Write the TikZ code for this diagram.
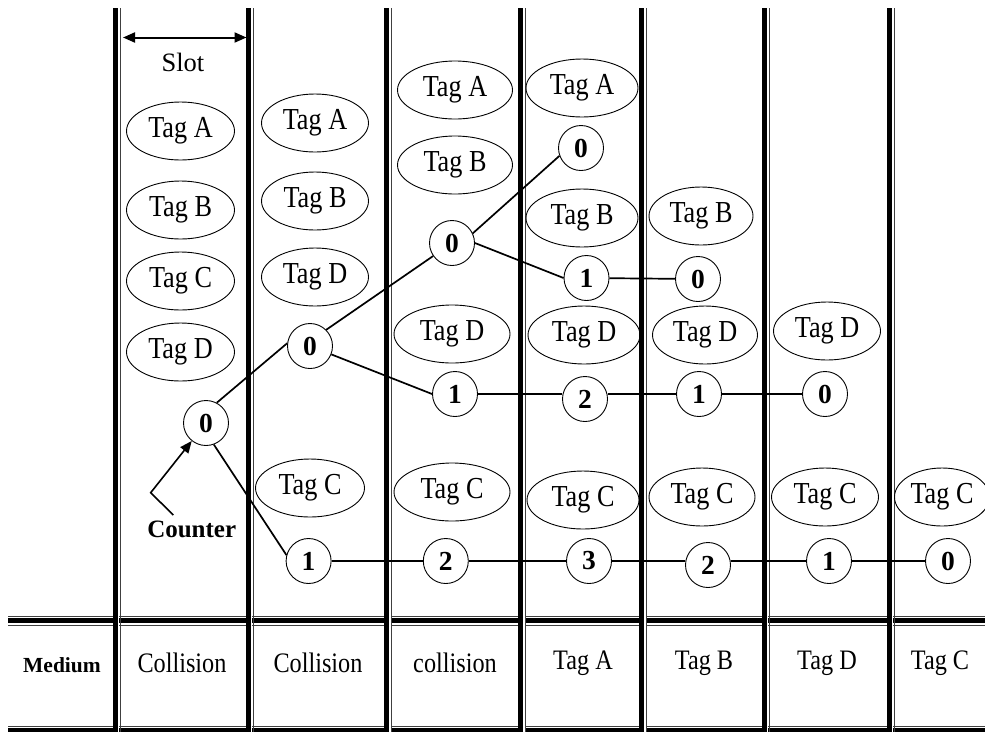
\documentclass[tikz,border=0pt]{standalone}
\usepackage{fontspec}
\setmainfont{Liberation Serif}
\newfontfamily\tagfont{Liberation Serif}[FakeStretch=0.86]
\usetikzlibrary{shapes.geometric,arrows.meta}
\begin{document}
\begin{tikzpicture}[x=1pt,y=-1pt,
  >={Triangle[length=12pt,width=10pt]},
  tag/.style={ellipse,draw,line width=0.9pt,inner sep=0pt,
    minimum width=108pt,minimum height=58pt,
    font=\tagfont\fontsize{30.5}{31}\selectfont},
  ctr/.style={circle,draw,line width=0.9pt,inner sep=0pt,minimum size=45pt,
    font=\fontsize{27.5}{28}\selectfont\bfseries},
  link/.style={line width=1.7pt},
  lbl/.style={font=\tagfont\fontsize{28.2}{30}\selectfont},
  thickrule/.style={line width=5pt},
  thinrule/.style={line width=0.9pt,black!75}
]
\useasboundingbox (0,0) rectangle (985,732);

% horizontal table rules
\draw[thinrule] (8,616.2) -- (985,616.2);
\draw[thickrule] (8,620.8) -- (985,620.8);
\draw[thinrule] (8,625.3) -- (985,625.3);
\draw[thinrule] (8,726.8) -- (985,726.8);
\draw[line width=3.6pt] (8,730.2) -- (985,730.2);

% vertical slot rules (thick-thin)
\foreach \xc in {115,248,386.5,520.5,641.5,764,889} {
  \draw[white,line width=2pt] (\xc+3.4,8) -- (\xc+3.4,732);
  \draw[thickrule] (\xc,8) -- (\xc,732);
  \draw[thinrule] (\xc+5,8) -- (\xc+5,732);
}

% slot width marker
\coordinate (slotL) at (123,37.5);
\coordinate (slotR) at (246.5,37.5);
\draw[line width=2pt,<->] (slotL) -- (slotR);
\node[font=\fontsize{26.5}{28}\selectfont] (slot) at (183,62) {Slot};

% slot 1
\node[tag] (a1) at (180.5,131) {Tag A};
\node[tag] (b1) at (180.5,210) {Tag B};
\node[tag] (t1c) at (180.5,281) {Tag C};
\node[tag] (d1) at (180.5,352) {Tag D};
\node[ctr] (c10) at (206,423) {0};

% slot 2
\node[tag,minimum width=107pt] (a2) at (315,123) {Tag A};
\node[tag,minimum width=107pt] (b2) at (315,201) {Tag B};
\node[tag,minimum width=107pt] (d2) at (315,277) {Tag D};
\node[tag,minimum width=109pt] (t2c) at (310,488) {Tag C};
\node[ctr] (c20) at (310,346) {0};
\node[ctr] (c21) at (308.6,561) {1};

% slot 3
\node[tag,minimum width=115pt] (a3) at (455,90) {Tag A};
\node[tag,minimum width=115pt] (b3) at (455,165) {Tag B};
\node[tag,minimum width=116pt] (d3) at (452,334) {Tag D};
\node[tag,minimum width=116pt] (t3c) at (452,492) {Tag C};
\node[ctr] (c30) at (452,243) {0};
\node[ctr] (c31) at (455,394) {1};
\node[ctr] (c32) at (445.8,561) {2};

% slot 4
\node[tag,minimum width=112pt] (a4) at (582,88) {Tag A};
\node[tag,minimum width=112pt] (b4) at (582,218) {Tag B};
\node[tag,minimum width=112pt] (d4) at (584,335) {Tag D};
\node[tag,minimum width=112pt] (t4c) at (583,500) {Tag C};
\node[ctr] (c40) at (581,148) {0};
\node[ctr] (c41) at (586.5,278) {1};
\node[ctr] (c42) at (585,399) {2};
\node[ctr] (c43) at (589,561) {3};

% slot 5
\node[tag,minimum width=104pt] (b5) at (701,216) {Tag B};
\node[tag,minimum width=105pt] (d5) at (705,335) {Tag D};
\node[tag,minimum width=106pt] (t5c) at (702,497) {Tag C};
\node[ctr] (c50) at (698,279) {0};
\node[ctr] (c51) at (699,394) {1};
\node[ctr] (c52) at (708,565) {2};

% slot 6
\node[tag,minimum width=107pt] (d6) at (827,331) {Tag D};
\node[tag,minimum width=107pt] (t6c) at (825,497) {Tag C};
\node[ctr] (c60) at (825,394) {0};
\node[ctr] (c61) at (829,561) {1};

% slot 7
\node[tag,minimum width=95pt] (t7c) at (942,497) {Tag C};
\node[ctr] (c70) at (948,561) {0};

% counter tree
\draw[link] (c10.62) -- (c20.173);
\draw[link] (c10.-70) -- (c21.165);
\draw[link] (c20.45) -- (c30);
\draw[link] (c20) -- (c31.west);
\draw[link] (c30.25) -- (c40.200);
\draw[link] (c30.east) -- (c41.west);
\draw[link] (c41) -- (c50);
\draw[link] (c31) -- (c42.west |- c31);
\draw[link] (c42.east |- c51) -- (c51);
\draw[link] (c51) -- (c60);
\draw[link] (c21) -- (c32) -- (c43);
\draw[link] (c43) -- (c52.west |- c43);
\draw[link] (c52.east |- c61) -- (c61) -- (c70);

% counter pointer
\coordinate (cntA) at (173.3,515);
\coordinate (cntB) at (150.7,492.7);
\draw[line width=1.6pt,->] (cntA) -- (cntB) -- (c10);
\node[font=\fontsize{25}{28}\selectfont\bfseries] (cnt) at (191.7,529) {Counter};

% medium row
\node[font=\fontsize{21.5}{24}\selectfont\bfseries] (med) at (62,665) {Medium};
\node[lbl] (m1) at (182,663) {Collision};
\node[lbl] (m2) at (318,663) {Collision};
\node[lbl] (m3) at (455,663) {collision};
\node[lbl] (m4) at (583,663) {Tag A};
\node[lbl] (m5) at (704,663) {Tag B};
\node[lbl] (m6) at (827,663) {Tag D};
\node[lbl] (m7) at (940,663) {Tag C};
\end{tikzpicture}
\end{document}
